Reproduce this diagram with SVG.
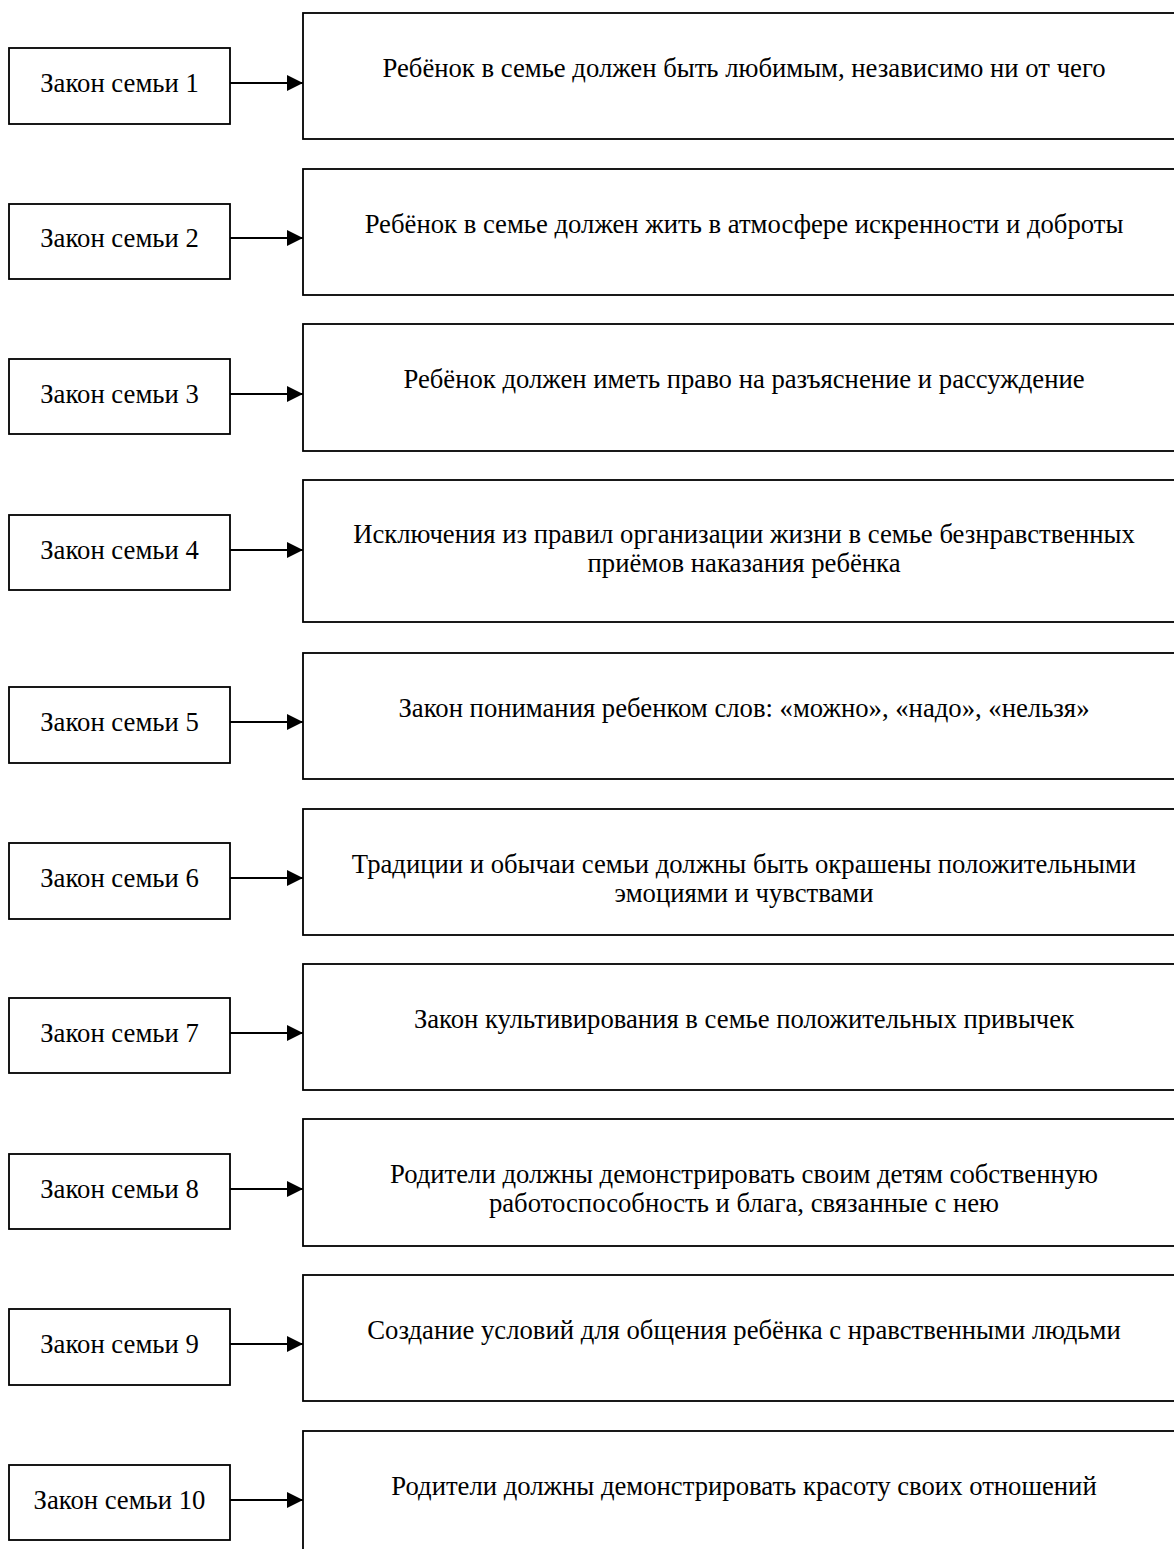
<svg xmlns="http://www.w3.org/2000/svg" width="1174" height="1549" viewBox="0 0 1174 1549">
<style>
.box{fill:#fff;stroke:#000;stroke-width:1.8}
.t{font-family:"Liberation Serif","Times New Roman",serif;font-size:26.7px;fill:#000;text-anchor:middle}
.c{stroke:#000;stroke-width:2;fill:none}
</style>
<defs>
<marker id="ah" markerUnits="userSpaceOnUse" markerWidth="17" markerHeight="17" refX="16" refY="8" orient="auto">
<path d="M0,0 L16,8 L0,16 Z" fill="#000"/>
</marker>
</defs>
<rect width="1174" height="1549" fill="#fff"/>
<g id="connectors">
<line class="c" x1="230" y1="83" x2="303" y2="83" marker-end="url(#ah)"/>
<line class="c" x1="230" y1="238" x2="303" y2="238" marker-end="url(#ah)"/>
<line class="c" x1="230" y1="394" x2="303" y2="394" marker-end="url(#ah)"/>
<line class="c" x1="230" y1="550" x2="303" y2="550" marker-end="url(#ah)"/>
<line class="c" x1="230" y1="722" x2="303" y2="722" marker-end="url(#ah)"/>
<line class="c" x1="230" y1="878" x2="303" y2="878" marker-end="url(#ah)"/>
<line class="c" x1="230" y1="1033" x2="303" y2="1033" marker-end="url(#ah)"/>
<line class="c" x1="230" y1="1189" x2="303" y2="1189" marker-end="url(#ah)"/>
<line class="c" x1="230" y1="1344" x2="303" y2="1344" marker-end="url(#ah)"/>
<line class="c" x1="230" y1="1500" x2="303" y2="1500" marker-end="url(#ah)"/>
</g>
<g id="law1"><rect class="box" x="9" y="48" width="221" height="76"/><text class="t" x="119.5" y="92">Закон семьи 1</text></g>
<g id="desc1"><rect class="box" x="303" y="13" width="882" height="126"/><text class="t" x="744" y="77">Ребёнок в семье должен быть любимым, независимо ни от чего</text></g>
<g id="law2"><rect class="box" x="9" y="204" width="221" height="75"/><text class="t" x="119.5" y="247">Закон семьи 2</text></g>
<g id="desc2"><rect class="box" x="303" y="169" width="882" height="126"/><text class="t" x="744" y="233">Ребёнок в семье должен жить в атмосфере искренности и доброты</text></g>
<g id="law3"><rect class="box" x="9" y="359" width="221" height="75"/><text class="t" x="119.5" y="403">Закон семьи 3</text></g>
<g id="desc3"><rect class="box" x="303" y="324" width="882" height="127"/><text class="t" x="744" y="388">Ребёнок должен иметь право на разъяснение и рассуждение</text></g>
<g id="law4"><rect class="box" x="9" y="515" width="221" height="75"/><text class="t" x="119.5" y="559">Закон семьи 4</text></g>
<g id="desc4"><rect class="box" x="303" y="480" width="882" height="142"/><text class="t" x="744" y="543">Исключения из правил организации жизни в семье безнравственных</text><text class="t" x="744" y="572">приёмов наказания ребёнка</text></g>
<g id="law5"><rect class="box" x="9" y="687" width="221" height="76"/><text class="t" x="119.5" y="731">Закон семьи 5</text></g>
<g id="desc5"><rect class="box" x="303" y="653" width="882" height="126"/><text class="t" x="744" y="717">Закон понимания ребенком слов: «можно», «надо», «нельзя»</text></g>
<g id="law6"><rect class="box" x="9" y="843" width="221" height="76"/><text class="t" x="119.5" y="887">Закон семьи 6</text></g>
<g id="desc6"><rect class="box" x="303" y="809" width="882" height="126"/><text class="t" x="744" y="873">Традиции и обычаи семьи должны быть окрашены положительными</text><text class="t" x="744" y="902">эмоциями и чувствами</text></g>
<g id="law7"><rect class="box" x="9" y="998" width="221" height="75"/><text class="t" x="119.5" y="1042">Закон семьи 7</text></g>
<g id="desc7"><rect class="box" x="303" y="964" width="882" height="126"/><text class="t" x="744" y="1028">Закон культивирования в семье положительных привычек</text></g>
<g id="law8"><rect class="box" x="9" y="1154" width="221" height="75"/><text class="t" x="119.5" y="1198">Закон семьи 8</text></g>
<g id="desc8"><rect class="box" x="303" y="1119" width="882" height="127"/><text class="t" x="744" y="1183">Родители должны демонстрировать своим детям собственную</text><text class="t" x="744" y="1212">работоспособность и блага, связанные с нею</text></g>
<g id="law9"><rect class="box" x="9" y="1309" width="221" height="76"/><text class="t" x="119.5" y="1353">Закон семьи 9</text></g>
<g id="desc9"><rect class="box" x="303" y="1275" width="882" height="126"/><text class="t" x="744" y="1339">Создание условий для общения ребёнка с нравственными людьми</text></g>
<g id="law10"><rect class="box" x="9" y="1465" width="221" height="75"/><text class="t" x="119.5" y="1509">Закон семьи 10</text></g>
<g id="desc10"><rect class="box" x="303" y="1431" width="882" height="140"/><text class="t" x="744" y="1495">Родители должны демонстрировать красоту своих отношений</text></g>
</svg>
